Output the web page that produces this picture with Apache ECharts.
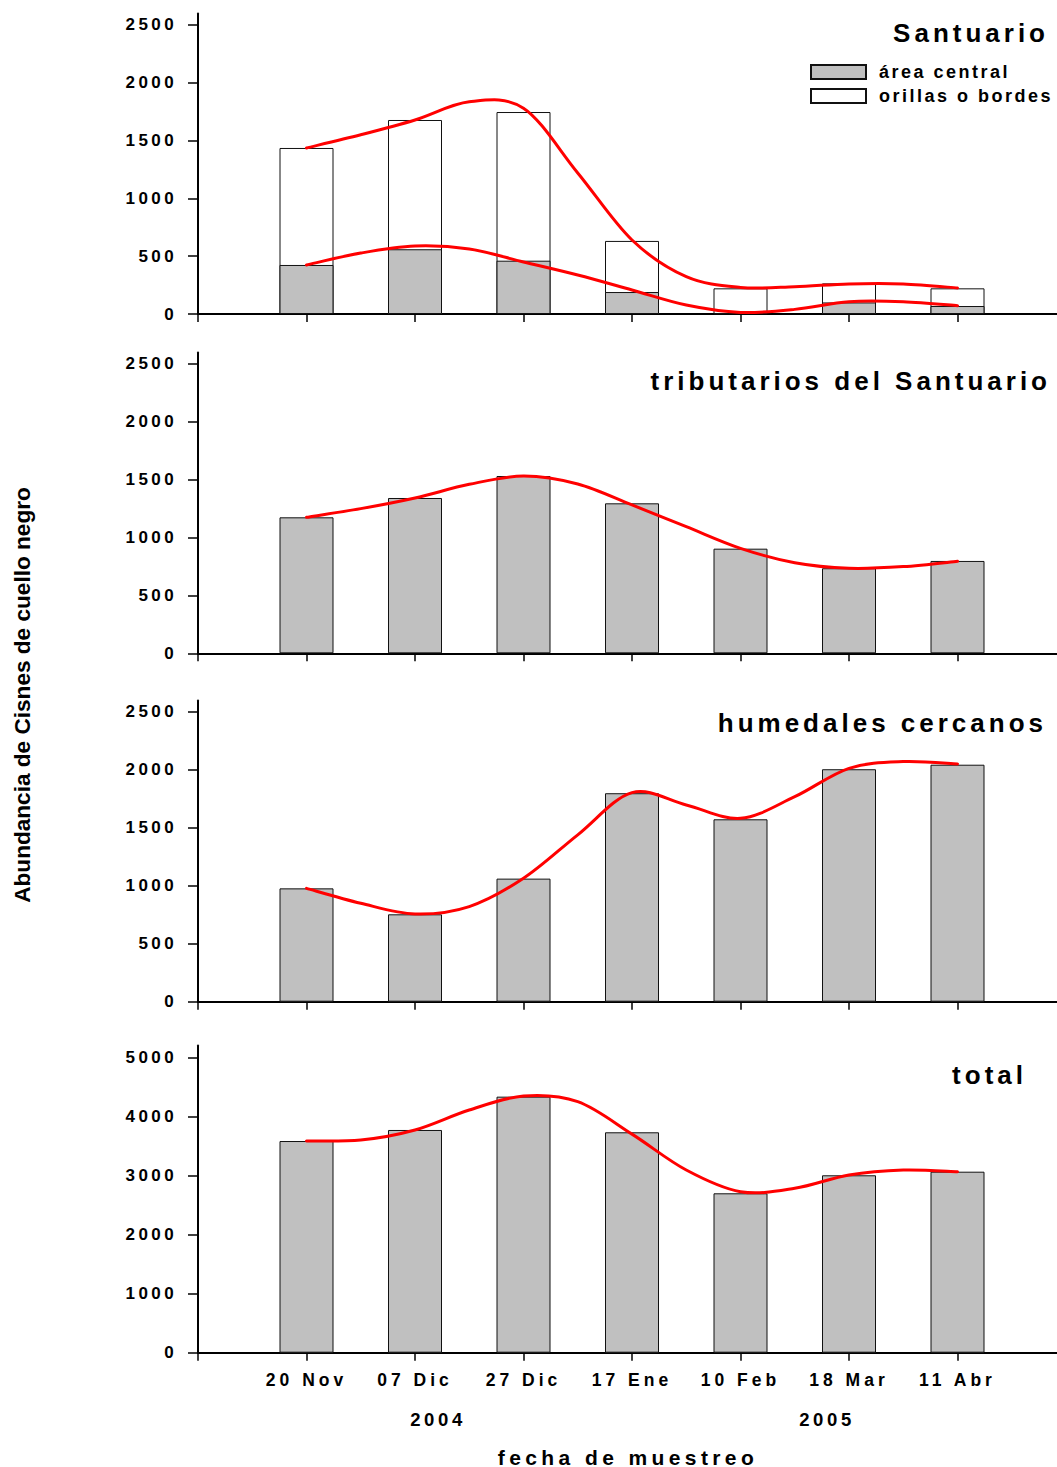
<!DOCTYPE html>
<html><head><meta charset="utf-8">
<style>
html,body{margin:0;padding:0;background:#fff;}
#chart{width:1057px;height:1467px;}
#chart text[style*="17px"]{letter-spacing:3.4px;}
#chart text[style*="17.5px"]{letter-spacing:4px;}
#chart text[style*="18px"]{letter-spacing:2.5px;}
#chart text[style*="18.5px"]{letter-spacing:3.6px;}
#chart text[style*="26px"]{letter-spacing:4px;}
#chart text[style*="21px"]{letter-spacing:4.4px;}
</style>
<script src="https://cdn.jsdelivr.net/npm/echarts@6.0.0/dist/echarts.min.js"></script>
</head><body><div id="chart"></div>
<script>
const categories = ['20 Nov','07 Dic','27 Dic','17 Ene','10 Feb','18 Mar','11 Abr'];
const catPos = [1,2,3,4,5,6,7];
const curveX = [1,1.5,2,2.5,3,3.5,4,4.5,5,5.5,6,6.5,7];
const santuarioCentral = [424,560,461,190,5,100,69];
const santuarioTotal = [1436,1678,1747,632,222,265,222];
const santuarioTotalCurve = [1436,1550,1678,1835,1780,1220,640,323,230,236,260,260,225];
const santuarioCentralCurve = [424,527,588,562,450,337,208,78,14,40,106,106,72];
const tributarios = [1175,1342,1532,1296,904,735,798];
const tributariosCurve = [1175,1250,1342,1460,1532,1463,1282,1094,907,783,735,749,795];
const humedales = [978,754,1062,1799,1574,2006,2045];
const humedalesCurve = [978,849,757,821,1065,1440,1804,1698,1582,1769,2014,2072,2052];
const total = [3583,3770,4334,3731,2698,3003,3064];
const totalCurve = [3583,3600,3770,4108,4345,4249,3700,3092,2725,2782,3008,3092,3064];
const yTicks = [0,500,1000,1500,2000,2500];
const yTicksTotal = [0,1000,2000,3000,4000,5000];
const xTicks = [0,1,2,3,4,5,6,7,8];
const panelTitles = ['Santuario','tributarios del Santuario','humedales cercanos','total'];
const years = ['2004','2005'];
const legendNames = ['área central','orillas o bordes'];

const FONT = '"Liberation Sans", Arial, sans-serif';
const RED = '#ff0000';
const GRAY = '#c0c0c0';

const grids = [
  {left:198, width:868, top:13.4, height:300.6, outerBoundsMode:'none'},
  {left:198, width:868, top:352.4, height:300.9, outerBoundsMode:'none'},
  {left:198, width:868, top:700.4, height:301.3, outerBoundsMode:'none'},
  {left:198, width:868, top:1045.5, height:307.2, outerBoundsMode:'none'}
];

const xAxes = grids.map((g,i)=>({
  type:'value', gridIndex:i, min:0, max:8, interval:1,
  axisLine:{show:true, onZero:false, lineStyle:{color:'#000', width:2}},
  axisTick:{show:true, customValues:xTicks, length:8, lineStyle:{color:'#000', width:1.5}},
  axisLabel:{show:i===3, customValues:catPos, formatter:v=>categories[v-1]||'',
    margin:18, fontSize:17.5, fontWeight:'bold', color:'#000', fontFamily:FONT},
  splitLine:{show:false}
}));

const yAxes = grids.map((g,i)=>{
  const ticks = i===3 ? yTicksTotal : yTicks;
  return {
    type:'value', gridIndex:i, min:0, max:i===3?5200:2600,
    axisLine:{show:true, onZero:false, lineStyle:{color:'#000', width:2}},
    axisTick:{show:true, customValues:ticks, length:10, lineStyle:{color:'#000', width:1.5}},
    axisLabel:{customValues:ticks, formatter:v=>String(v), margin:21, fontSize:17, fontWeight:'bold', color:'#000', fontFamily:FONT},
    splitLine:{show:false}
  };
});

function barSeries(name, idx, vals, color){
  return {
    type:'bar', name:name, xAxisIndex:idx, yAxisIndex:idx,
    barWidth:54, barGap:'-100%', data:catPos.map((p,k)=>[p, vals[k]]),
    itemStyle:{color:color, borderColor:'#111', borderWidth:1},
    emphasis:{disabled:true}, z:2
  };
}
function curveSeries(idx, vals){
  return {
    type:'custom', xAxisIndex:idx, yAxisIndex:idx, silent:true, z:5, clip:false,
    data:curveX.map((p,k)=>[p, vals[k]]),
    encode:{x:0, y:1},
    renderItem:function(params, api){
      if (params.dataIndex !== 0) return null;
      const pts = curveX.map((p,k)=>api.coord([p, vals[k]]));
      const n = pts.length;
      let d = 'M' + pts[0][0].toFixed(2) + ' ' + pts[0][1].toFixed(2);
      for (let k = 0; k < n - 1; k++) {
        const p0 = pts[Math.max(k-1,0)], p1 = pts[k], p2 = pts[k+1], p3 = pts[Math.min(k+2,n-1)];
        const c1x = p1[0] + (p2[0]-p0[0])/6, c1y = p1[1] + (p2[1]-p0[1])/6;
        const c2x = p2[0] - (p3[0]-p1[0])/6, c2y = p2[1] - (p3[1]-p1[1])/6;
        d += ' C' + c1x.toFixed(2) + ' ' + c1y.toFixed(2) + ' ' + c2x.toFixed(2) + ' ' + c2y.toFixed(2) + ' ' + p2[0].toFixed(2) + ' ' + p2[1].toFixed(2);
      }
      return {type:'path', shape:{pathData:d}, style:{fill:'none', stroke:RED, lineWidth:3, lineCap:'round', lineJoin:'round'}};
    }
  };
}

const series = [
  barSeries(legendNames[1], 0, santuarioTotal, '#ffffff'),
  barSeries(legendNames[0], 0, santuarioCentral, GRAY),
  curveSeries(0, santuarioTotalCurve),
  curveSeries(0, santuarioCentralCurve),
  barSeries('tributarios', 1, tributarios, GRAY),
  curveSeries(1, tributariosCurve),
  barSeries('humedales', 2, humedales, GRAY),
  curveSeries(2, humedalesCurve),
  barSeries('total', 3, total, GRAY),
  curveSeries(3, totalCurve)
];

const titleRight = [1049, 1051, 1047, 1027];
const titleY = [33, 381, 723, 1075];
const graphics = panelTitles.map((t,i)=>({
  type:'text', x:titleRight[i], y:titleY[i],
  style:{text:t, align:'right', verticalAlign:'middle', fill:'#000',
    font:'bold 26px ' + FONT}
}));
graphics.push({type:'text', x:438, y:1419, style:{text:years[0], align:'center', verticalAlign:'middle', fill:'#000', font:'bold 18.5px ' + FONT}});
graphics.push({type:'text', x:827, y:1419, style:{text:years[1], align:'center', verticalAlign:'middle', fill:'#000', font:'bold 18.5px ' + FONT}});
graphics.push({type:'text', x:628, y:1457, style:{text:'fecha de muestreo', align:'center', verticalAlign:'middle', fill:'#000', font:'bold 21px ' + FONT}});
graphics.push({type:'text', x:22, y:695, rotation:Math.PI/2, style:{text:'Abundancia de Cisnes de cuello negro', align:'center', verticalAlign:'middle', fill:'#000', font:'bold 22.6px ' + FONT}});

const chart = echarts.init(document.getElementById('chart'), null, {renderer:'svg', width:1057, height:1467});
chart.setOption({
  animation:false,
  backgroundColor:'#fff',
  grid:grids,
  xAxis:xAxes,
  yAxis:yAxes,
  legend:{data:legendNames, left:810, top:63, padding:0, orient:'vertical', icon:'rect',
    itemWidth:55, itemHeight:14, itemGap:6, selectedMode:false,
    textStyle:{fontSize:18, fontWeight:'bold', color:'#000', fontFamily:FONT, padding:[0,0,0,8]}},
  graphic:graphics,
  series:series
});
</script>
</body></html>
